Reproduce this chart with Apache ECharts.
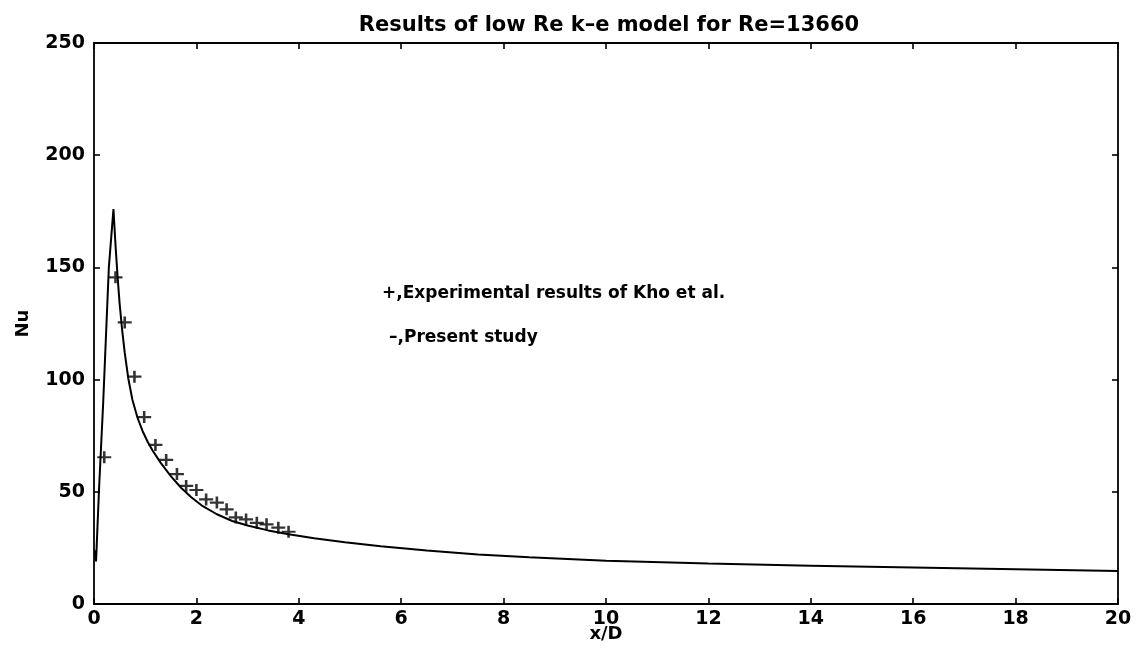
<!DOCTYPE html>
<html>
<head>
<meta charset="utf-8">
<script src="https://cdn.jsdelivr.net/npm/echarts@6/dist/echarts.min.js"></script>
<style>
  html, body { margin: 0; padding: 0; background: #fff; }
  #chart { width: 1141px; height: 652px; }
</style>
</head>
<body>
<div id="chart"></div>
<script>
// Nusselt number along the wall, low-Re k-e model vs. experiment
const titleText = 'Results of low Re k\u2013e model for Re=13660';
const xLabel = 'x/D';
const yLabel = 'Nu';
const legendExp = '+,Experimental results of Kho et al.';
const legendModel = '\u2013,Present study';

// Present study (computed curve): sharp peak near the inlet, then slow decay
const modelX = [0.02, 0.04, 0.10, 0.18, 0.29, 0.38, 0.42, 0.46, 0.50, 0.55, 0.60, 0.67, 0.75, 0.85, 0.95, 1.05, 1.15, 1.30, 1.50, 1.70, 1.90, 2.10, 2.40, 2.70, 3.00, 3.40, 3.80, 4.30, 4.90, 5.60, 6.50, 7.50, 8.50, 10.0, 12.0, 14.0, 16.0, 18.0, 20.0];
const modelNu = [24, 19, 52, 90, 150, 176, 160, 146, 134, 122, 112, 100.5, 91, 83, 77, 72.2, 68.2, 63, 57, 51.8, 47.6, 44, 40, 37, 35, 32.8, 31.1, 29.3, 27.5, 25.7, 23.8, 22.1, 20.8, 19.3, 18.0, 17.1, 16.3, 15.5, 14.7];

// Experimental results of Kho et al.
const expX = [0.20, 0.42, 0.60, 0.79, 0.98, 1.20, 1.41, 1.62, 1.80, 2.00, 2.19, 2.40, 2.59, 2.77, 2.97, 3.18, 3.37, 3.60, 3.80];
const expNu = [65.4, 145.6, 125.5, 101.3, 83.3, 70.9, 64.2, 57.9, 52.6, 50.8, 46.6, 45.2, 42.2, 38.6, 37.7, 36.2, 35.5, 34.0, 32.2];

const xTicks = { min: 0, max: 20, interval: 2 };
const yTicks = { min: 0, max: 250, interval: 50 };

const font = 'DejaVu Sans, Liberation Sans, Arial, sans-serif';
const chart = echarts.init(document.getElementById('chart'), null, { renderer: 'canvas' });

const frameLine = { show: true, onZero: false, lineStyle: { color: '#000', width: 1.8 } };
const inTick = { show: true, inside: true, length: 6, lineStyle: { color: '#000', width: 1.6 } };
const tickLabel = { color: '#000', fontFamily: font, fontWeight: 'bold', fontSize: 19 };
const nameStyle = { fontFamily: font, fontWeight: 'bold', fontSize: 18, color: '#000' };

const option = {
  backgroundColor: '#fff',
  animation: false,
  title: {
    text: titleText,
    left: 604, top: 10, textAlign: 'center',
    textStyle: { fontFamily: font, fontWeight: 'bold', fontSize: 21, color: '#000' }
  },
  grid: { left: 94, right: 23, top: 43, bottom: 48, outerBoundsMode: 'none', containLabel: false },
  xAxis: [
    {
      type: 'value', position: 'bottom', ...xTicks,
      name: xLabel, nameLocation: 'middle', nameGap: 21, nameMoveOverlap: false,
      nameTextStyle: nameStyle,
      axisLine: frameLine, axisTick: inTick,
      axisLabel: { ...tickLabel, margin: 6 },
      splitLine: { show: false }
    },
    {
      type: 'value', position: 'top', ...xTicks,
      axisLine: frameLine, axisTick: inTick,
      axisLabel: { show: false }, splitLine: { show: false }
    }
  ],
  yAxis: [
    {
      type: 'value', position: 'left', ...yTicks,
      name: yLabel, nameLocation: 'middle', nameGap: 62, nameRotate: 90, nameMoveOverlap: false,
      nameTextStyle: nameStyle,
      axisLine: frameLine, axisTick: inTick,
      axisLabel: { ...tickLabel, margin: 9 },
      splitLine: { show: false }
    },
    {
      type: 'value', position: 'right', ...yTicks,
      axisLine: frameLine, axisTick: inTick,
      axisLabel: { show: false }, splitLine: { show: false }
    }
  ],
  graphic: [
    {
      type: 'text', left: 382, top: 285,
      style: { text: legendExp, fontFamily: font, fontWeight: 'bold', fontSize: 17, fill: '#000' }
    },
    {
      type: 'text', left: 389, top: 329,
      style: { text: legendModel, fontFamily: font, fontWeight: 'bold', fontSize: 17, fill: '#000' }
    }
  ],
  series: [
    {
      name: 'Present study',
      type: 'line',
      data: modelX.map((x, i) => [x, modelNu[i]]),
      showSymbol: false,
      smooth: false,
      lineStyle: { color: '#000', width: 2 },
      z: 3
    },
    {
      name: 'Experimental results of Kho et al.',
      type: 'scatter',
      data: expX.map((x, i) => [x, expNu[i]]),
      symbol: 'path://M0,6 L14,6 M7,0 L7,12',
      symbolSize: [14, 12],
      itemStyle: { color: 'rgba(0,0,0,0)', borderColor: '#000', borderWidth: 2.4 },
      z: 4
    }
  ]
};
chart.setOption(option);
</script>
</body>
</html>
